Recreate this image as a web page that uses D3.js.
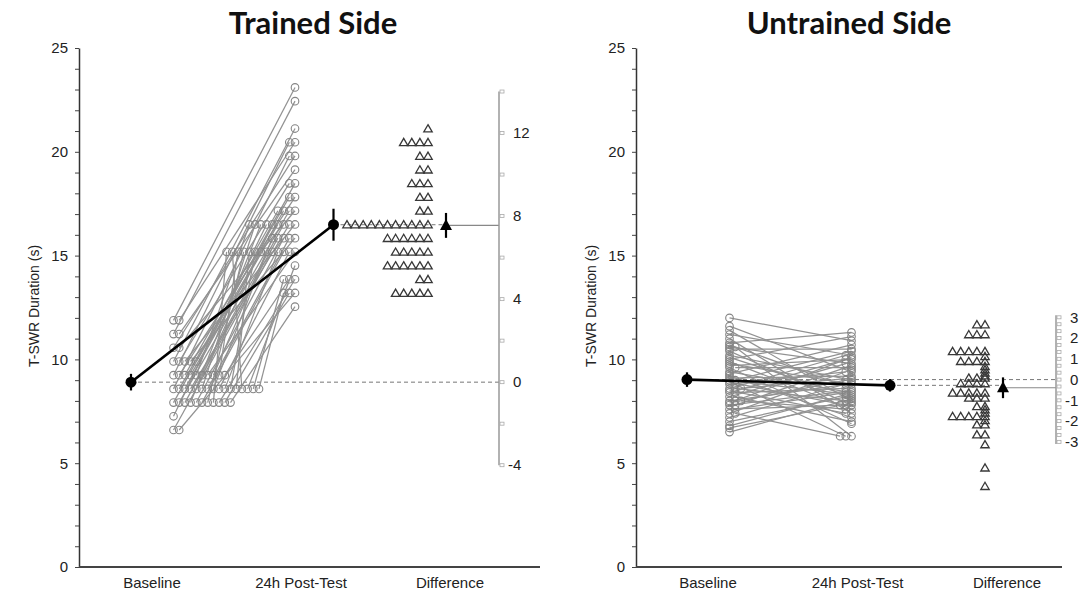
<!DOCTYPE html>
<html>
<head>
<meta charset="utf-8">
<script src="https://cdn.jsdelivr.net/npm/d3@7"></script>
<style>
  body { margin: 0; background: #fff; }
  svg { display: block; }
</style>
</head>
<body>
<script>
// categories, titles, tick labels
var categories = ["Baseline", "24h Post-Test", "Difference"];
var panelTitles = ["Trained Side", "Untrained Side"];
var yAxisTitle = "T-SWR Duration (s)";
var yTicks = [0, 5, 10, 15, 20, 25];
var trainedDiffTicks = [-4, 0, 4, 8, 12];
var untrainedDiffTicks = [-3, -2, -1, 0, 1, 2, 3];

// trained side - baseline/post paired by index (s)
var trainedBaseline = [11.88, 11.22, 9.90, 11.88, 9.24, 10.56, 8.58, 11.22, 7.92, 9.90, 9.24, 8.58, 10.56, 7.92, 8.58, 9.24,
  9.90, 8.58, 7.92, 9.24, 8.58, 7.26, 7.92, 8.58, 9.24,
  9.90, 8.58, 7.92, 9.24, 8.58,
  9.24, 8.58, 7.92, 8.58, 6.60, 9.24, 9.90, 8.58, 8.58, 7.92, 9.24, 8.58, 7.92,
  8.58, 7.92, 9.24, 8.58, 6.60, 7.92, 8.58, 7.92];
var trainedPost = [23.10, 22.44, 21.12, 20.46, 20.46, 19.80, 19.80, 19.14, 18.48, 18.48, 17.82, 17.82, 17.16, 17.16, 17.16, 17.16,
  16.50, 16.50, 16.50, 16.50, 16.50, 16.50, 16.50, 16.50, 16.50,
  15.84, 15.84, 15.84, 15.84, 15.84,
  15.18, 15.18, 15.18, 15.18, 15.18, 15.18, 15.18, 15.18, 15.18, 15.18, 15.18, 15.18, 15.18,
  14.52, 13.86, 13.86, 13.86, 13.20, 13.20, 13.20, 12.54];
var trainedDiff = [12.21, 11.55, 11.55, 11.55, 11.55, 10.89, 10.89, 10.23, 10.23, 9.57, 9.57, 9.57, 8.91, 8.91, 8.25, 8.25,
  7.59, 7.59, 7.59, 7.59, 7.59, 7.59, 7.59, 7.59, 7.59, 7.59, 7.59,
  6.93, 6.93, 6.93, 6.93, 6.93, 6.93, 6.27, 6.27, 6.27, 6.27, 6.27,
  5.61, 5.61, 5.61, 5.61, 5.61, 5.61, 4.95, 4.95, 4.29, 4.29, 4.29, 4.29, 4.29];
var trainedCI = [0.4, 0.77, 0.6];   // baseline, post, difference

// untrained side
var untrainedBaseline = [12.0, 11.6, 11.4, 11.2, 11.0, 10.8, 10.7, 10.6, 10.6, 10.5, 10.4, 10.2, 10.1, 10.0, 9.9, 9.8, 9.7,
  9.6, 9.6, 9.4, 9.3, 9.2, 9.1, 9.0, 9.0, 8.9, 8.8, 8.8, 8.6, 8.6, 8.6, 8.5, 8.4, 8.4, 8.2, 8.2,
  8.0, 8.0, 8.0, 7.9, 7.8, 7.8, 7.6, 7.6, 7.4, 7.4, 7.2, 7.0, 6.8, 6.7, 6.5];
var untrainedPost = [10.9, 9.4, 8.0, 10.2, 7.4, 11.3, 8.6, 9.8, 6.3, 10.5, 7.8, 9.0, 8.2, 11.1, 7.6, 8.8, 10.0,
  6.9, 9.6, 8.4, 10.7, 7.2, 9.2, 8.3, 10.4, 7.8, 9.4, 6.3, 10.2, 8.0, 9.1, 7.4, 10.0, 8.6, 9.8, 7.0,
  8.8, 10.1, 7.6, 9.0, 8.5, 9.7, 7.8, 8.4, 9.5, 6.3, 8.9, 8.2, 8.3, 7.9, 8.1];
var untrainedDiff = [2.65, 2.65, 2.17, 2.17, 2.17, 1.36, 1.36, 1.36, 1.36, 1.36, 1.12, 0.88, 0.88, 0.88, 0.88,
  0.64, 0.48, 0.32, 0.19, 0.08, 0.08, 0.08, -0.19, -0.19, -0.19, -0.19,
  -0.64, -0.64, -0.64, -0.64, -0.64, -0.88, -0.88, -0.88, -1.29, -1.29, -1.45, -1.6,
  -1.77, -1.77, -1.77, -1.77, -1.77, -1.97, -2.17, -2.17, -2.65, -2.65, -3.13, -4.25, -5.14];
var untrainedCI = [0.35, 0.3, 0.5];

var W = 1086, H = 596;
var svg = d3.select("body").append("svg").attr("width", W).attr("height", H);

var y = d3.scaleLinear().domain([0, 25]).range([567, 48]);

var panels = [
  { title: panelTitles[0], titleX: 313, axisX: 79, xEnd: 540, xRange: [152, 450],
    base: trainedBaseline, post: trainedPost, diff: trainedDiff, ci: trainedCI,
    diffExtent: [-4, 14], diffMinor: d3.range(-4, 14.01, 2), diffTicks: trainedDiffTicks },
  { title: panelTitles[1], titleX: 849, axisX: 636, xEnd: 1062, xRange: [708, 1007],
    base: untrainedBaseline, post: untrainedPost, diff: untrainedDiff, ci: untrainedCI,
    diffExtent: [-3.1, 3.1], diffMinor: d3.range(-9, 9.5, 1).map(function(k){ return k / 3; }), diffTicks: untrainedDiffTicks }
];

// stack identical values side by side
function swarm(values) {
  var seen = {};
  return values.map(function(v) {
    var k = v.toFixed(2);
    seen[k] = seen[k] || 0;
    return seen[k]++;
  });
}

var tri = "M0,-4L4.2,3.2L-4.2,3.2Z";
var bigTri = "M0,-6.5L6,4.5L-6,4.5Z";
var gap = 5.7, triGap = 8.1;
var sans = "'Liberation Sans', Arial, sans-serif";

panels.forEach(function(p) {
  var g = svg.append("g");
  var x = d3.scalePoint().domain(categories).range(p.xRange);
  var xb = x(categories[0]), xp = x(categories[1]), xd = x(categories[2]);

  var baseMean = d3.mean(p.base), postMean = d3.mean(p.post), diffMean = d3.mean(p.diff);
  // difference axis: zero sits on the baseline mean
  var yd = d3.scaleLinear().domain([0, 1]).range([y(baseMean), y(baseMean + 1)]);

  var baseCol = xb + 21.5, postCol = xp - 6, diffCol = xd - 22;
  var baseMeanX = xb - 21, postMeanX = xp + 32.5, diffMeanX = xd - 4, diffAxisX = xd + 49;

  var kb = swarm(p.base), kp = swarm(p.post), kd = swarm(p.diff);

  // title
  g.append("text")
    .attr("x", p.titleX).attr("y", 34)
    .attr("text-anchor", "middle")
    .attr("font-family", "Lato, 'Open Sans', sans-serif")
    .attr("font-weight", "bold")
    .attr("font-size", "31px")
    .attr("fill", "#111")
    .text(p.title);

  // y axis
  var yAxis = d3.axisLeft(y)
    .tickValues(d3.range(0, 26, 1))
    .tickSize(4).tickSizeOuter(0).tickPadding(7)
    .tickFormat(function(d) { return yTicks.indexOf(d) >= 0 ? d : ""; });
  var ya = g.append("g").attr("transform", "translate(" + p.axisX + ",0)").call(yAxis);
  ya.select(".domain").attr("stroke", "#333").attr("stroke-width", 1.5);
  ya.selectAll(".tick line").attr("stroke", "#444");
  ya.selectAll(".tick text")
    .attr("font-family", sans)
    .attr("font-size", "15px").attr("fill", "#222");

  g.append("text")
    .attr("transform", "translate(" + (p.axisX - 40) + "," + 306 + ") rotate(-90)")
    .attr("text-anchor", "middle")
    .attr("font-family", sans)
    .attr("font-size", "14px").attr("fill", "#222")
    .text(yAxisTitle);

  // bottom axis line and category labels
  g.append("line")
    .attr("x1", p.axisX).attr("x2", p.xEnd)
    .attr("y1", y(0)).attr("y2", y(0))
    .attr("stroke", "#444").attr("stroke-width", 2);

  g.selectAll(".cat").data(categories).enter().append("text")
    .attr("x", function(d) { return x(d); })
    .attr("y", 588)
    .attr("text-anchor", "middle")
    .attr("font-family", sans)
    .attr("font-size", "15px").attr("fill", "#222")
    .text(function(d) { return d; });

  // reference lines
  g.append("line")
    .attr("x1", baseMeanX).attr("x2", diffAxisX)
    .attr("y1", y(baseMean)).attr("y2", y(baseMean))
    .attr("stroke", "#777").attr("stroke-width", 1).attr("stroke-dasharray", "4,3");
  g.append("line")
    .attr("x1", postMeanX).attr("x2", diffMeanX)
    .attr("y1", y(postMean)).attr("y2", y(postMean))
    .attr("stroke", "#777").attr("stroke-width", 1).attr("stroke-dasharray", "4,3");
  g.append("line")
    .attr("x1", diffMeanX).attr("x2", diffAxisX)
    .attr("y1", yd(diffMean)).attr("y2", yd(diffMean))
    .attr("stroke", "#888").attr("stroke-width", 1.2);

  // paired lines
  g.append("g").selectAll("line").data(p.base).enter().append("line")
    .attr("x1", function(d, i) { return baseCol + kb[i] * gap; })
    .attr("y1", function(d) { return y(d); })
    .attr("x2", function(d, i) { return postCol - kp[i] * gap; })
    .attr("y2", function(d, i) { return y(p.post[i]); })
    .attr("stroke", "#929292").attr("stroke-width", 1.25);

  // individual circles
  g.append("g").selectAll("circle").data(p.base).enter().append("circle")
    .attr("cx", function(d, i) { return baseCol + kb[i] * gap; })
    .attr("cy", function(d) { return y(d); })
    .attr("r", 3.8)
    .attr("fill", "none").attr("stroke", "#858585").attr("stroke-width", 1.1);
  g.append("g").selectAll("circle").data(p.post).enter().append("circle")
    .attr("cx", function(d, i) { return postCol - kp[i] * gap; })
    .attr("cy", function(d) { return y(d); })
    .attr("r", 3.8)
    .attr("fill", "none").attr("stroke", "#858585").attr("stroke-width", 1.1);

  // mean line with error bars
  g.append("line")
    .attr("x1", baseMeanX).attr("y1", y(baseMean))
    .attr("x2", postMeanX).attr("y2", y(postMean))
    .attr("stroke", "#000").attr("stroke-width", 2.6);
  var means = [[baseMeanX, baseMean, p.ci[0]], [postMeanX, postMean, p.ci[1]]];
  g.selectAll(".ebar").data(means).enter().append("line")
    .attr("x1", function(d) { return d[0]; }).attr("x2", function(d) { return d[0]; })
    .attr("y1", function(d) { return y(d[1] - d[2]); })
    .attr("y2", function(d) { return y(d[1] + d[2]); })
    .attr("stroke", "#000").attr("stroke-width", 2.2);
  g.selectAll(".mdot").data(means).enter().append("circle")
    .attr("cx", function(d) { return d[0]; })
    .attr("cy", function(d) { return y(d[1]); })
    .attr("r", 5.5).attr("fill", "#000");

  // differences
  g.append("g").selectAll("path").data(p.diff).enter().append("path")
    .attr("d", tri)
    .attr("transform", function(d, i) {
      return "translate(" + (diffCol - kd[i] * triGap) + "," + yd(d) + ")";
    })
    .attr("fill", "none").attr("stroke", "#383838").attr("stroke-width", 1.3);

  g.append("line")
    .attr("x1", diffMeanX).attr("x2", diffMeanX)
    .attr("y1", yd(diffMean - p.ci[2])).attr("y2", yd(diffMean + p.ci[2]))
    .attr("stroke", "#000").attr("stroke-width", 2.2);
  g.append("path")
    .attr("d", bigTri)
    .attr("transform", "translate(" + diffMeanX + "," + yd(diffMean) + ")")
    .attr("fill", "#000");

  // difference axis
  var da = g.append("g");
  da.append("line")
    .attr("x1", diffAxisX).attr("x2", diffAxisX)
    .attr("y1", yd(p.diffExtent[0])).attr("y2", yd(p.diffExtent[1]))
    .attr("stroke", "#999").attr("stroke-width", 1.5);
  da.selectAll("rect").data(p.diffMinor).enter().append("rect")
    .attr("x", diffAxisX + 1)
    .attr("y", function(d) { return yd(d) - 1.5; })
    .attr("width", 4).attr("height", 3)
    .attr("fill", "#fff").attr("stroke", "#aaa").attr("stroke-width", 0.8);
  da.selectAll("text").data(p.diffTicks).enter().append("text")
    .attr("x", function(d) { return diffAxisX + (d < 0 ? 9 : 14); })
    .attr("y", function(d) { return yd(d); })
    .attr("dy", "0.35em")
    .attr("font-family", sans)
    .attr("font-size", "15px").attr("fill", "#222")
    .text(function(d) { return d < 0 ? "-" + Math.abs(d) : d; });
});
</script>
</body>
</html>
